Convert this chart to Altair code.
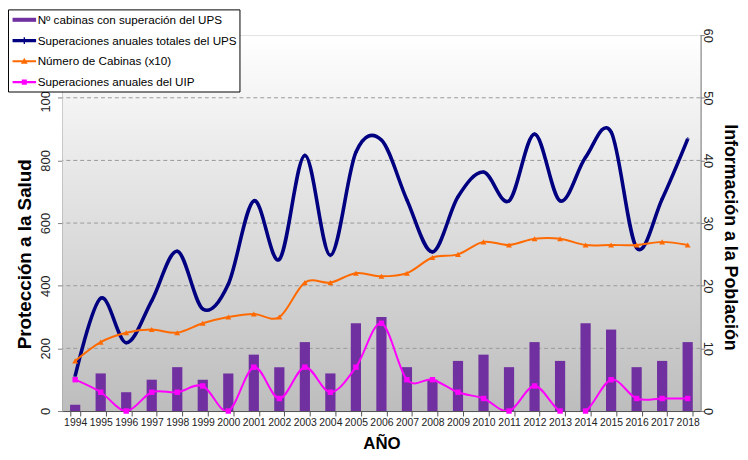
import altair as alt
import pandas as pd

years = [str(y) for y in range(1994, 2019)]
cabinas_sup_ups = [1, 6, 3, 5, 7, 5, 6, 9, 7, 11, 6, 14, 15, 7, 5, 8, 9, 7, 11, 8, 14, 13, 7, 8, 11]
sup_totales_ups = [112, 360, 218, 352, 510, 326, 405, 671, 484, 816, 497, 826, 865, 674, 508,
                   684, 763, 671, 884, 671, 810, 891, 521, 677, 868]
num_cabinas_x10 = [160, 220, 250, 260, 250, 280, 300, 310, 300, 410, 410, 440, 430, 440, 490,
                   500, 540, 530, 550, 550, 530, 530, 530, 540, 530]
sup_uip = [5, 3, 0, 3, 3, 4, 0, 7, 2, 7, 3, 7, 14, 5, 5, 3, 2, 0, 4, 0, 0, 5, 2, 2, 2]

series_names = ["Nº cabinas con superación del UPS",
                "Superaciones anuales totales del UPS",
                "Número de Cabinas (x10)",
                "Superaciones anuales del UIP"]
series_colors = ["#7030A0", "#000080", "#FF6A00", "#FF00FF"]
legend_paths = [
    "M-1.4,-0.24H1.4V0.24H-1.4Z",
    "M-1.4,-0.2H1.4V0.2H-1.4Z M-0.08,-0.4H0.08V0.4H-0.08Z",
    "M-1.4,-0.12H1.4V0.12H-1.4Z M0,-0.42L0.4,0.28H-0.4Z",
    "M-1.4,-0.12H1.4V0.12H-1.4Z M-0.3,-0.3H0.3V0.3H-0.3Z",
]
left_ticks = [0, 200, 400, 600, 800, 1000, 1200]
right_ticks = [0, 10, 20, 30, 40, 50, 60]
grid_values = [200, 400, 600, 800, 1000]

df = pd.DataFrame({
    "year": years,
    "cab": cabinas_sup_ups,
    "ups": sup_totales_ups,
    "num": num_cabinas_x10,
    "uip": sup_uip,
})
grid_df = pd.DataFrame({"g": grid_values})
legend_df = pd.DataFrame({"series": series_names})

FONT = "Liberation Sans"

X = alt.X("year:O",
          scale=alt.Scale(paddingInner=0.6, paddingOuter=0.3),
          axis=alt.Axis(title="AÑO", labelAngle=0, tickBand="extent", tickSize=5,
                        labelFontSize=10.5, labelFont=FONT, labelColor="#222222",
                        labelPadding=2, domainColor="#555555", tickColor="#555555",
                        titleFont=FONT, titleFontSize=17, titleFontWeight="bold",
                        titleColor="#000000", titleBaseline="middle", titleY=33,
                        labelOverlap=False))

left_scale = alt.Scale(domain=[0, 1200], nice=False)
right_scale = alt.Scale(domain=[0, 60], nice=False)

left_axis = alt.Axis(title="Protección a la Salud", values=left_ticks, grid=False, format="d",
                     labelAngle=270, labelAlign="center", labelBaseline="middle",
                     labelPadding=12, tickSize=5, labelFontSize=13, labelFont=FONT,
                     labelColor="#222222", domainColor="#808080", tickColor="#808080",
                     titleFont=FONT, titleFontSize=19, titleFontWeight="bold",
                     titleColor="#000000", titleAngle=270, titleBaseline="middle",
                     titleAlign="center", titleX=-38, titleY=221)
right_axis = alt.Axis(title="Información a la Población", values=right_ticks, grid=False,
                      labelAngle=90, labelAlign="center", labelBaseline="middle",
                      labelPadding=3, tickSize=4, labelFontSize=13, labelFont=FONT,
                      labelColor="#222222", domainColor="#808080", tickColor="#808080",
                      titleFont=FONT, titleFontSize=18, titleFontWeight="bold",
                      titleColor="#000000", titleAngle=90, titleBaseline="middle",
                      titleAlign="center", titleX=29, titleY=204)

gradient = alt.LinearGradient(
    gradient="linear",
    stops=[alt.GradientStop(color="#FFFFFF", offset=0),
           alt.GradientStop(color="#BDBDBD", offset=1)],
    x1=0, x2=0, y1=0, y2=1)

background = alt.Chart(legend_df.head(1)).mark_rect(color=gradient).encode(
    x=alt.value(0), x2=alt.value("width"), y=alt.value(0), y2=alt.value("height"))

grid = alt.Chart(grid_df).mark_rule(color="#9A9A9A", strokeDash=[4, 3], strokeWidth=1).encode(
    y=alt.Y("g:Q", scale=left_scale, axis=left_axis))

base = alt.Chart(df)

ups_line = base.mark_line(color="#000080", strokeWidth=3.6, interpolate="cardinal", clip=True).encode(
    x=X, y=alt.Y("ups:Q", scale=left_scale, axis=left_axis))
ups_pts = base.mark_point(shape="cross", filled=True, size=14, color="#000080").encode(
    x=X, y=alt.Y("ups:Q", scale=left_scale))
num_line = base.mark_line(color="#FF6A00", strokeWidth=2, interpolate="cardinal", clip=True).encode(
    x=X, y=alt.Y("num:Q", scale=left_scale))
num_pts = base.mark_point(shape="triangle-up", filled=True, size=35, color="#FF6A00", opacity=1).encode(
    x=X, y=alt.Y("num:Q", scale=left_scale))

bars = base.mark_bar(color="#7030A0").encode(
    x=X, y=alt.Y("cab:Q", scale=right_scale, axis=right_axis))
uip_line = base.mark_line(color="#FF00FF", strokeWidth=2, interpolate="cardinal", clip=True).encode(
    x=X, y=alt.Y("uip:Q", scale=right_scale))
uip_pts = base.mark_square(size=30, color="#FF00FF", opacity=1).encode(
    x=X, y=alt.Y("uip:Q", scale=right_scale))

legend_kw = dict(title=None, orient="none", legendX=-55, legendY=-26,
                 fillColor="white", strokeColor="#000000", padding=2,
                 symbolSize=289, symbolStrokeWidth=0, symbolOpacity=1,
                 symbolOffset=6, labelOffset=5, rowPadding=5,
                 labelFont=FONT, labelFontSize=11.8, labelColor="#000000", labelLimit=400)
legend_layer = alt.Chart(legend_df).mark_point(filled=True, opacity=0).encode(
    color=alt.Color("series:N", sort=series_names,
                    scale=alt.Scale(domain=series_names, range=series_colors),
                    legend=alt.Legend(**legend_kw)),
    shape=alt.Shape("series:N", sort=series_names,
                    scale=alt.Scale(domain=series_names, range=legend_paths),
                    legend=alt.Legend(**legend_kw)))

left_group = alt.layer(background, grid, ups_line, ups_pts, num_line, num_pts)
right_group = alt.layer(bars, uip_line, uip_pts, legend_layer)

chart = alt.layer(left_group, right_group).resolve_scale(
    y="independent"
).properties(
    width=645, height=380,
    autosize=alt.AutoSizeParams(type="none"),
    padding={"left": 55, "top": 25, "right": 40, "bottom": 39},
    background="white",
).configure_view(stroke="#808080", strokeWidth=1)

chart.save("out.html", embed_options={"renderer": "svg", "actions": False})
